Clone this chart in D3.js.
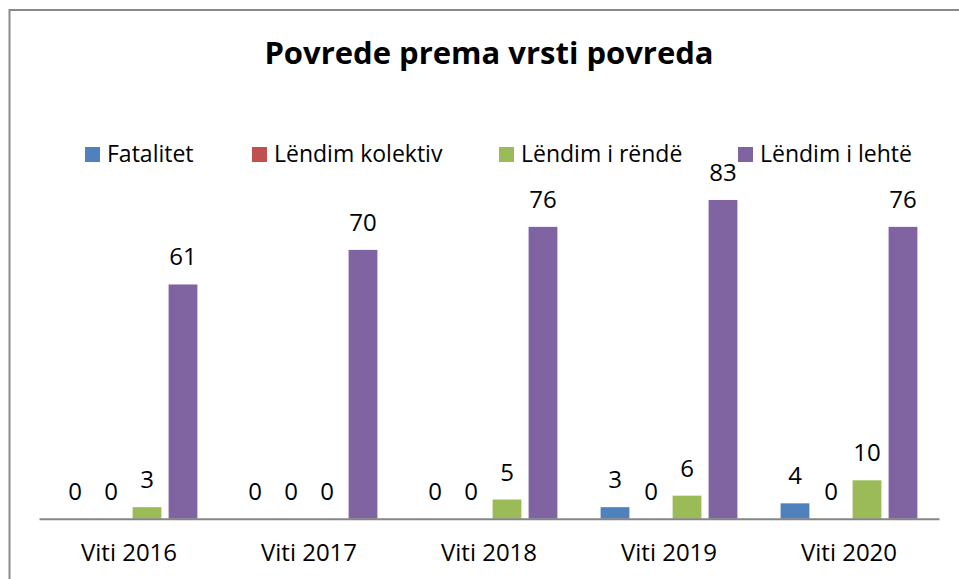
<html>
<head>
<meta charset="utf8">
<script src="https://cdn.jsdelivr.net/npm/d3@7"></script>
<style>
body { margin: 0; background: #fff; }
text { font-family: "Open Sans", sans-serif; fill: #000; }
</style>
</head>
<body>
<div id="canvas"></div>
<script>

// data
const years = ['Viti 2016','Viti 2017','Viti 2018','Viti 2019','Viti 2020'];
const seriesNames = ['Fatalitet','Lëndim kolektiv','Lëndim i rëndë','Lëndim i lehtë'];
const fatalitet = [0, 0, 0, 3, 4];
const kolektiv = [0, 0, 0, 0, 0];
const rende = [3, 0, 5, 6, 10];
const lehte = [61, 70, 76, 83, 76];
const colors = ['#4F81BD','#C0504D','#9BBB59','#8064A2'];

const values = [fatalitet, kolektiv, rende, lehte];

const W = 959, H = 579;
const svg = d3.select('#canvas').append('svg')
    .attr('width', W)
    .attr('height', H)
    .attr('viewBox', `0 0 ${W} ${H}`);

// chart border
svg.append('rect')
    .attr('x', 9.5).attr('y', 10)
    .attr('width', 970).attr('height', 600)
    .attr('fill', 'none')
    .attr('stroke', '#898989')
    .attr('stroke-width', 2);

// title
svg.append('text')
    .attr('x', 489).attr('y', 64)
    .attr('text-anchor', 'middle')
    .attr('font-size', '31px')
    .attr('font-weight', 'bold')
    .text('Povrede prema vrsti povreda');

const xScale = d3.scaleBand()
    .domain(years)
    .range([39, 939]);

const inner = d3.scaleBand()
    .domain(seriesNames)
    .range([xScale.bandwidth() / 2 - 72, xScale.bandwidth() / 2 + 72])
    .paddingInner(0.2)
    .paddingOuter(0.1);

const baseY = 518.7;
const yScale = d3.scaleLinear()
    .domain([0, 90])
    .range([baseY, baseY - 90 * 3.84]);

// bars + labels
seriesNames.forEach((name, s) => {
    const g = svg.append('g');
    g.selectAll('rect')
        .data(values[s])
        .join('rect')
        .attr('x', (d, i) => xScale(years[i]) + inner(name))
        .attr('y', d => yScale(d))
        .attr('width', inner.bandwidth())
        .attr('height', d => baseY - yScale(d))
        .attr('fill', colors[s]);

    g.selectAll('text')
        .data(values[s])
        .join('text')
        .attr('x', (d, i) => xScale(years[i]) + inner(name) + inner.bandwidth() / 2)
        .attr('y', d => yScale(d) - 19)
        .attr('text-anchor', 'middle')
        .attr('font-size', '24px')
        .text(d => d);
});

// x axis
const xAxis = svg.append('g')
    .attr('transform', `translate(0,${baseY})`)
    .call(d3.axisBottom(xScale).tickSize(0).tickPadding(0));
xAxis.select('.domain')
    .attr('stroke', '#868686')
    .attr('stroke-width', 2);
xAxis.selectAll('.tick text')
    .attr('y', 42)
    .attr('dy', 0)
    .attr('font-size', '24px')
    .attr('font-family', '"Open Sans", sans-serif')
    .attr('fill', '#000');

// legend
const legendX = [85, 252, 499, 738];
const legend = svg.append('g');
seriesNames.forEach((name, s) => {
    legend.append('rect')
        .attr('x', legendX[s]).attr('y', 147)
        .attr('width', 15).attr('height', 15)
        .attr('fill', colors[s]);
    legend.append('text')
        .attr('x', legendX[s] + 22).attr('y', 162)
        .attr('font-size', '23px')
        .text(name);
});
</script>

</body>
</html>
